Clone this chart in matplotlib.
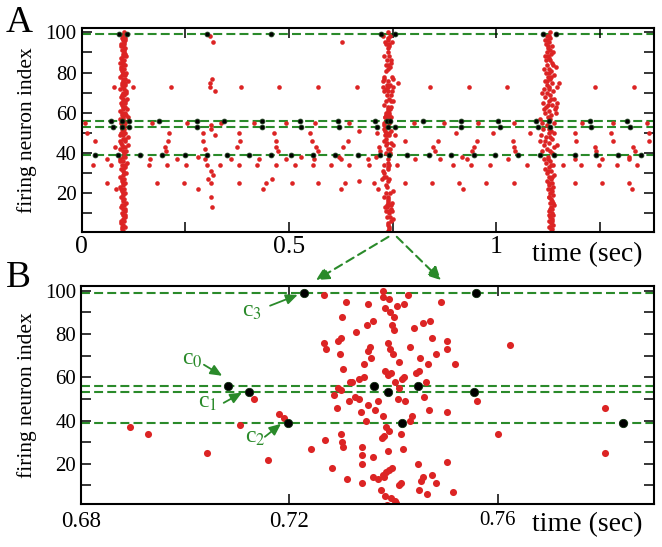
import numpy as np
import matplotlib
matplotlib.use("Agg")
import matplotlib.pyplot as plt
from matplotlib.patches import ConnectionPatch

plt.rcParams["font.family"] = ["Liberation Serif", "DejaVu Serif"]
plt.rcParams["mathtext.fontset"] = "stix"

RED = "#dc2424"
GREEN = "#2a8a2a"

# neurons drawn as dashed reference rows (c0..c3) and their spike times (sec)
c_rows = {"c0": 56, "c1": 53, "c2": 39, "c3": 99}
c0_times = [0.070, 0.098, 0.114, 0.187, 0.279, 0.343, 0.434, 0.526, 0.618, 0.7083, 0.7363,
            0.7447, 0.824, 0.915, 1.005, 1.096, 1.126, 1.226, 1.316]
c1_times = [0.075, 0.098, 0.114, 0.279, 0.434, 0.528, 0.621, 0.7122, 0.7390, 0.7554, 0.915,
            1.008, 1.100, 1.130, 1.228, 1.322]
c2_times = [0.033, 0.088, 0.142, 0.195, 0.249, 0.302, 0.351, 0.404, 0.457, 0.506, 0.558,
            0.612, 0.666, 0.7198, 0.7416, 0.7841, 0.837, 0.890, 0.945, 0.997, 1.052, 1.104,
            1.140, 1.189, 1.241, 1.294, 1.348]
c3_times = [0.091, 0.110, 0.303, 0.457, 0.7229, 0.7559, 1.112, 1.144]

# sparse (between-burst) spikes of the other neurons: (time, neuron)
sparse_spikes = [
    (0.009, 55), (0.014, 50), (0.032, 46), (0.028, 34), (0.062, 37), (0.072, 34), (0.062, 25),
    (0.080, 43), (0.082, 22), (0.078, 73), (0.123, 73), (0.216, 73), (0.170, 55), (0.255, 55),
    (0.210, 50), (0.208, 46), (0.202, 43), (0.204, 41), (0.162, 34), (0.164, 37), (0.182, 25),
    (0.207, 34), (0.230, 37), (0.247, 25), (0.253, 34), (0.281, 38), (0.281, 22),
    (0.309, 98), (0.317, 95), (0.314, 77), (0.309, 75), (0.309, 73), (0.322, 71), (0.384, 73),
    (0.476, 73), (0.570, 73), (0.337, 55), (0.313, 54), (0.313, 52), (0.321, 49), (0.293, 50),
    (0.416, 55), (0.492, 55), (0.563, 55), (0.379, 50), (0.381, 46), (0.376, 43), (0.465, 50),
    (0.468, 46), (0.470, 43), (0.473, 41), (0.550, 50), (0.555, 46), (0.566, 43), (0.570, 41),
    (0.293, 46), (0.297, 42), (0.297, 37), (0.303, 34), (0.313, 31), (0.317, 29), (0.305, 27),
    (0.313, 25), (0.313, 18), (0.314, 13), (0.333, 34), (0.361, 37), (0.380, 34), (0.379, 25),
    (0.424, 34), (0.427, 37), (0.438, 22), (0.444, 25), (0.459, 27), (0.469, 34), (0.492, 37),
    (0.514, 34), (0.508, 25), (0.528, 38), (0.558, 34), (0.560, 37), (0.571, 25),
    (0.628, 95), (0.664, 73), (0.839, 73), (0.644, 55), (0.670, 51), (0.642, 46), (0.630, 43),
    (0.621, 38), (0.625, 37), (0.602, 34), (0.646, 34), (0.625, 22), (0.634, 25), (0.669, 26),
    (0.801, 55), (0.804, 37), (0.847, 43), (0.851, 41), (0.845, 25), (0.859, 46),
    (0.6894, 37), (0.6929, 34), (0.7042, 25), (0.7105, 38), (0.7132, 50), (0.7159, 22),
    (0.7181, 43), (0.7189, 41), (0.7561, 49), (0.7623, 75), (0.7601, 34), (0.7805, 46),
    (0.7805, 25),
    (0.933, 73), (1.026, 73), (0.874, 55), (0.955, 55), (1.042, 55), (0.903, 50), (0.992, 50),
    (1.080, 50), (0.954, 46), (0.946, 43), (0.942, 41), (1.040, 46), (1.042, 43), (1.046, 41),
    (0.863, 37), (0.895, 34), (0.918, 38), (0.930, 37), (0.939, 34), (0.984, 34), (1.028, 37),
    (1.074, 34), (0.911, 25), (0.919, 22), (0.975, 25), (1.042, 25),
    (1.238, 73), (1.331, 73), (1.206, 55), (1.282, 55), (1.364, 55), (1.190, 50), (1.193, 46),
    (1.276, 50), (1.280, 46), (1.367, 50), (1.367, 46), (1.238, 43), (1.240, 41), (1.254, 37),
    (1.330, 43), (1.335, 41), (1.320, 38), (1.319, 37), (1.160, 34), (1.189, 37), (1.204, 34),
    (1.248, 34), (1.292, 34), (1.338, 34), (1.189, 25), (1.254, 25), (1.319, 25), (1.327, 22),
]

# first population burst near 0.1 sec
burst1_spikes = [
    (0.101, 1), (0.098, 2), (0.104, 3), (0.097, 3), (0.100, 4), (0.096, 5), (0.103, 6), (0.095, 6),
    (0.099, 7), (0.106, 8), (0.101, 9), (0.106, 9), (0.097, 10), (0.104, 11), (0.100, 12),
    (0.104, 12), (0.095, 13), (0.102, 14), (0.097, 14), (0.107, 15), (0.099, 16), (0.103, 17),
    (0.099, 17), (0.096, 18), (0.101, 19), (0.105, 20), (0.099, 20), (0.098, 21), (0.102, 22),
    (0.096, 22), (0.094, 23), (0.100, 24), (0.106, 25), (0.100, 25), (0.097, 26), (0.103, 27),
    (0.097, 27), (0.092, 28), (0.099, 29), (0.108, 30), (0.103, 30), (0.101, 31), (0.095, 32),
    (0.100, 32), (0.104, 33), (0.098, 34), (0.104, 34), (0.110, 35), (0.100, 36), (0.094, 36),
    (0.093, 37), (0.105, 38), (0.099, 38), (0.102, 40), (0.108, 41), (0.101, 41), (0.094, 42),
    (0.100, 43), (0.106, 43), (0.111, 44), (0.098, 44), (0.096, 45), (0.104, 46), (0.093, 46),
    (0.099, 47), (0.105, 47), (0.113, 48), (0.092, 49), (0.100, 49), (0.106, 50), (0.096, 50),
    (0.101, 51), (0.097, 52), (0.103, 52), (0.103, 54), (0.097, 54), (0.095, 55), (0.105, 55),
    (0.100, 57), (0.094, 57), (0.112, 58), (0.101, 58), (0.098, 59), (0.108, 59), (0.104, 60),
    (0.097, 60), (0.094, 61), (0.109, 62), (0.099, 62), (0.101, 63), (0.106, 63), (0.097, 64),
    (0.106, 65), (0.096, 65), (0.100, 66), (0.104, 66), (0.110, 67), (0.099, 67), (0.095, 68),
    (0.103, 69), (0.097, 69), (0.099, 70), (0.108, 70), (0.107, 71), (0.093, 72), (0.102, 72),
    (0.101, 73), (0.105, 74), (0.098, 74), (0.097, 75), (0.104, 75), (0.111, 76), (0.100, 76),
    (0.100, 77), (0.106, 77), (0.094, 78), (0.104, 79), (0.097, 79), (0.108, 80), (0.101, 80),
    (0.098, 81), (0.102, 82), (0.096, 82), (0.096, 83), (0.106, 84), (0.099, 84), (0.100, 85),
    (0.094, 85), (0.103, 86), (0.098, 86), (0.095, 87), (0.108, 88), (0.101, 88), (0.099, 89),
    (0.105, 89), (0.102, 90), (0.097, 91), (0.102, 91), (0.105, 92), (0.100, 93), (0.095, 93),
    (0.096, 94), (0.103, 94), (0.103, 95), (0.099, 96), (0.104, 96), (0.106, 97), (0.098, 97),
    (0.101, 98), (0.102, 100),
]

# second burst near 0.74 sec (the one zoomed in panel B)
burst2_spikes = [
    (0.7267, 98), (0.7309, 95), (0.7301, 88), (0.7266, 76), (0.7271, 73), (0.7294, 77),
    (0.7299, 78), (0.7298, 71), (0.7303, 64), (0.7317, 58), (0.7293, 55), (0.7300, 54),
    (0.7286, 52), (0.7314, 49), (0.7292, 46), (0.7300, 34), (0.7268, 31), (0.7302, 30),
    (0.7303, 28), (0.7241, 27), (0.7281, 18), (0.7310, 13),
    (0.7379, 100), (0.7379, 97), (0.7392, 96), (0.7427, 98), (0.7351, 94), (0.7384, 92),
    (0.7407, 93), (0.7421, 94), (0.7393, 90), (0.7401, 88), (0.7361, 86), (0.7349, 84),
    (0.7328, 81), (0.7397, 84), (0.7400, 82), (0.7440, 83), (0.7457, 85), (0.7470, 86),
    (0.7473, 78), (0.7390, 76), (0.7432, 74), (0.7393, 73), (0.7355, 74), (0.7351, 72),
    (0.7356, 69), (0.7399, 71), (0.7482, 71), (0.7411, 67), (0.7451, 69), (0.7344, 66),
    (0.7449, 63), (0.7384, 63), (0.7396, 62), (0.7390, 61), (0.7444, 62), (0.7467, 66),
    (0.7320, 58), (0.7333, 59), (0.7344, 60), (0.7421, 60), (0.7416, 59), (0.7403, 58),
    (0.7463, 58), (0.7411, 55), (0.7326, 51), (0.7334, 50), (0.7409, 50), (0.7459, 51),
    (0.7422, 49), (0.7350, 47), (0.7371, 49), (0.7365, 45), (0.7337, 44), (0.7468, 45),
    (0.7380, 42), (0.7436, 42), (0.7431, 40), (0.7347, 40), (0.7386, 37), (0.7391, 35),
    (0.7382, 33), (0.7377, 32), (0.7414, 34), (0.7339, 28), (0.7419, 27), (0.7390, 26),
    (0.7340, 24), (0.7340, 20), (0.7360, 23), (0.7391, 17), (0.7386, 16), (0.7447, 20),
    (0.7379, 15), (0.7397, 18), (0.7360, 14), (0.7371, 13), (0.7381, 14), (0.7339, 11),
    (0.7411, 10), (0.7414, 11), (0.7453, 12), (0.7456, 14), (0.7473, 15), (0.7482, 11),
    (0.7376, 8), (0.7384, 5), (0.7395, 4), (0.7403, 3), (0.7404, 2), (0.7387, 1),
    (0.7448, 8), (0.7465, 6),
    (0.7492, 95), (0.7502, 77), (0.7502, 73), (0.7518, 66), (0.7503, 44), (0.7503, 21),
    (0.7515, 7),
]

# third burst near 1.13 sec
burst3_spikes = [
    (1.131, 1), (1.134, 2), (1.129, 3), (1.136, 4), (1.132, 5), (1.128, 6), (1.135, 7),
    (1.130, 8), (1.137, 9), (1.133, 10), (1.127, 11), (1.134, 12), (1.131, 13), (1.138, 14),
    (1.129, 15), (1.135, 16), (1.132, 17), (1.126, 18), (1.136, 19), (1.130, 20), (1.133, 21),
    (1.124, 22), (1.137, 23), (1.128, 24), (1.134, 25), (1.121, 26), (1.131, 27), (1.126, 28),
    (1.139, 29), (1.123, 30), (1.132, 31), (1.118, 32), (1.128, 33), (1.136, 34), (1.120, 35),
    (1.130, 36), (1.114, 37), (1.125, 38), (1.133, 40), (1.110, 41), (1.122, 42), (1.140, 43),
    (1.116, 44), (1.128, 45), (1.104, 46), (1.135, 47), (1.119, 48), (1.108, 49), (1.126, 50),
    (1.131, 51), (1.113, 52), (1.121, 54), (1.138, 55), (1.106, 57), (1.124, 58), (1.132, 59),
    (1.117, 60), (1.128, 61), (1.142, 62), (1.120, 63), (1.144, 63), (1.135, 64), (1.112, 65),
    (1.126, 66), (1.139, 67), (1.118, 68), (1.130, 69), (1.123, 70), (1.136, 71), (1.115, 72),
    (1.127, 73), (1.145, 73), (1.121, 74), (1.133, 75), (1.150, 75), (1.117, 76), (1.129, 77),
    (1.124, 78), (1.138, 79), (1.120, 80), (1.131, 81), (1.126, 82), (1.143, 83), (1.122, 84),
    (1.134, 85), (1.119, 86), (1.128, 87), (1.124, 88), (1.132, 89), (1.121, 90), (1.129, 91),
    (1.125, 92), (1.133, 93), (1.120, 94), (1.127, 95), (1.123, 96), (1.130, 97), (1.126, 98),
    (1.129, 100),
    (1.127, 3), (1.133, 6), (1.126, 9), (1.130, 12), (1.136, 15), (1.128, 18), (1.132, 22),
    (1.126, 25), (1.134, 28), (1.125, 31), (1.131, 34), (1.124, 37), (1.129, 41), (1.145, 44),
    (1.118, 46), (1.130, 48), (1.140, 50), (1.127, 52), (1.110, 55), (1.129, 57), (1.143, 60),
    (1.114, 62), (1.124, 64), (1.147, 65), (1.131, 67), (1.109, 70), (1.128, 72), (1.123, 76),
    (1.132, 78), (1.128, 80), (1.116, 82), (1.137, 84), (1.130, 86), (1.118, 88), (1.136, 90),
    (1.125, 93), (1.117, 96), (1.122, 98),
]

# annotation layout for panel B: label anchor, arrow tail, arrow head (data coords)
c_labels = {
    "c0": ((0.6994, 65.8), (0.7036, 65.8), (0.7071, 60.7)),
    "c1": ((0.7024, 45.9), (0.7074, 48.2), (0.7109, 52.9)),
    "c2": ((0.7115, 29.8), (0.7153, 32.5), (0.7184, 38.5)),
    "c3": ((0.7109, 87.9), (0.7163, 93.1), (0.7216, 98.1)),
}

red = np.array(sparse_spikes + burst1_spikes + burst2_spikes + burst3_spikes)
c_times = {"c0": c0_times, "c1": c1_times, "c2": c2_times, "c3": c3_times}

W, H = 662, 547
fig = plt.figure(figsize=(W / 100, H / 100), dpi=100)
axA = fig.add_axes([81.5 / W, 1 - 232.3 / H, (654 - 81.5) / W, (232.3 - 27.5) / H])
axB = fig.add_axes([81 / W, 1 - 504.3 / H, (654 - 81) / W, (504.3 - 286) / H])


def draw_panel(ax, red_size, black_size, black_edge):
    for key, row in c_rows.items():
        ax.axhline(row, color=GREEN, lw=1.5, ls=(0, (4.3, 2.0)), zorder=1.5)
    ax.scatter(red[:, 0], red[:, 1], s=red_size, color=RED, linewidths=0, zorder=2)
    for key, row in c_rows.items():
        t = np.array(c_times[key])
        ax.scatter(t, np.full_like(t, row), s=black_size, color="black",
                   edgecolors=black_edge, linewidths=0.6, zorder=3)
    for side in ax.spines.values():
        side.set_linewidth(1.5)
    ax.tick_params(which="both", direction="in", top=True, right=True,
                   length=7, width=1.1)
    ax.set_ylabel("firing neuron index", fontsize=15.5)
    ax.yaxis.set_label_coords(-0.077, 0.5)


draw_panel(axA, 11, 12, "#1c3f1c")
axA.set_xlim(0, 1.38)
axA.set_ylim(0.6, 102.4)
axA.set_xticks([0, 0.5, 1])
axA.set_xticklabels(["0", "0.5", "1"])
axA.set_xticks([0.25, 0.75, 1.25], minor=True)
axA.set_yticks([20, 40, 60, 80, 100])
axA.set_yticks([10, 30, 50, 70, 90], minor=True)
axA.tick_params(axis="x", which="major", labelsize=18.5, pad=2.5)
axA.tick_params(axis="y", which="major", labelsize=15, pad=3.5)

draw_panel(axB, 26, 36, "#103010")
axB.set_xlim(0.68, 0.79)
axB.set_ylim(1.3, 102.2)
axB.set_xticks([0.68, 0.72, 0.76])
axB.set_xticklabels(["0.68", "0.72", "0.76"])
axB.set_yticks([20, 40, 60, 80, 100])
axB.set_yticks([10, 30, 50, 70, 90], minor=True)
axB.tick_params(axis="x", which="major", labelsize=16.5, pad=5)
axB.tick_params(axis="y", which="major", labelsize=15, pad=3.5)
axB.get_xticklabels()[2].set_fontsize(15)

for key, (label_xy, tail, head) in c_labels.items():
    axB.annotate("", xy=head, xytext=tail,
                 arrowprops=dict(arrowstyle="-|>,head_length=0.5,head_width=0.22",
                                 color=GREEN, lw=1.3, shrinkA=0, shrinkB=0,
                                 mutation_scale=14))
    axB.text(label_xy[0], label_xy[1], "c$_{%s}$" % key[1], color=GREEN, fontsize=17,
             ha="left", va="baseline")

# dashed arrows linking the burst in A to the zoom in B
for start_t, end_t in [(0.740, 0.7251), (0.760, 0.7491)]:
    con = ConnectionPatch(xyA=(start_t, -0.022), coordsA=axA.get_xaxis_transform(),
                          xyB=(end_t, 1.027), coordsB=axB.get_xaxis_transform(),
                          arrowstyle="-|>,head_length=0.6,head_width=0.3", mutation_scale=13,
                          color=GREEN, lw=1.5, linestyle=(0, (4, 2.5)))
    fig.add_artist(con)

fig.text(6 / W, 1 - 31.7 / H, "A", fontsize=27, va="baseline", ha="left")
fig.text(6 / W, 1 - 287 / H, "B", fontsize=27, va="baseline", ha="left")
fig.text(587 / W, 1 - 261 / H, "time (sec)", fontsize=20, va="baseline", ha="center")
fig.text(587 / W, 1 - 531 / H, "time (sec)", fontsize=20, va="baseline", ha="center")

fig.savefig("out.png", dpi=100)
